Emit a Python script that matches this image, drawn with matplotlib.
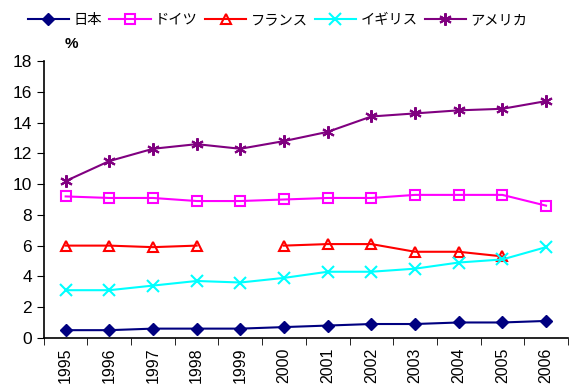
import numpy as np
import matplotlib.pyplot as plt

plt.rcParams['font.family'] = ['Liberation Sans', 'Noto Sans CJK JP', 'DejaVu Sans']

years = ['1995', '1996', '1997', '1998', '1999', '2000',
         '2001', '2002', '2003', '2004', '2005', '2006']
japan = [0.5, 0.5, 0.6, 0.6, 0.6, 0.7, 0.8, 0.9, 0.9, 1.0, 1.0, 1.1]
germany = [9.2, 9.1, 9.1, 8.9, 8.9, 9.0, 9.1, 9.1, 9.3, 9.3, 9.3, 8.6]
france = [6.0, 6.0, 5.9, 6.0, np.nan, 6.0, 6.1, 6.1, 5.6, 5.6, 5.3, np.nan]
uk = [3.1, 3.1, 3.4, 3.7, 3.6, 3.9, 4.3, 4.3, 4.5, 4.9, 5.1, 5.9]
usa = [10.2, 11.5, 12.3, 12.6, 12.3, 12.8, 13.4, 14.4, 14.6, 14.8, 14.9, 15.4]

fig = plt.figure(figsize=(5.69, 3.87), dpi=100)
ax = fig.add_axes([0.077, 0.127, 0.921, 0.715])
x = np.arange(len(years))

ax.plot(x, japan, color='#000080', marker='D', ms=6.5, mfc='#000080', lw=1.5, label='日本')
ax.plot(x, germany, color='#FF00FF', marker='s', ms=6.5, mfc='none', mew=1.5, lw=1.5, label='ドイツ')
ax.plot(x, france, color='#FF0000', marker='^', ms=7.5, mfc='none', mew=1.5, lw=1.5, label='フランス')
ax.plot(x, uk, color='#00FFFF', marker='x', ms=8, mew=1.5, lw=1.5, label='イギリス')
ax.plot(x, usa, color='#800080', marker=(6, 2, 0), ms=9, mew=1.5, lw=1.5, label='アメリカ')

ax.set_xlim(-0.5, len(years) - 0.5)
ax.set_ylim(0, 18)
ax.set_yticks(range(0, 19, 2))
ax.set_xticks(x)
ax.set_xticklabels(years, rotation=90, fontsize=11.5)
ax.set_xticks(np.arange(-0.5, len(years), 1), minor=True)
ax.tick_params(axis='x', which='major', length=0, pad=7)
ax.tick_params(axis='x', which='minor', length=5, direction='out')
ax.tick_params(axis='y', length=5, labelsize=12.5)
for s in ['top', 'right']:
    ax.spines[s].set_visible(False)
ax.spines['left'].set_linewidth(1.2)
ax.spines['bottom'].set_linewidth(1.2)

fig.text(0.113, 0.875, '%', fontsize=11, fontweight='bold', ha='left')
fig.legend(loc='upper left', bbox_to_anchor=(0.026, 1.0), ncol=5, frameon=False,
           handlelength=2.9, handletextpad=0.3, columnspacing=0.5, fontsize=10.3)

fig.savefig('out.png')
